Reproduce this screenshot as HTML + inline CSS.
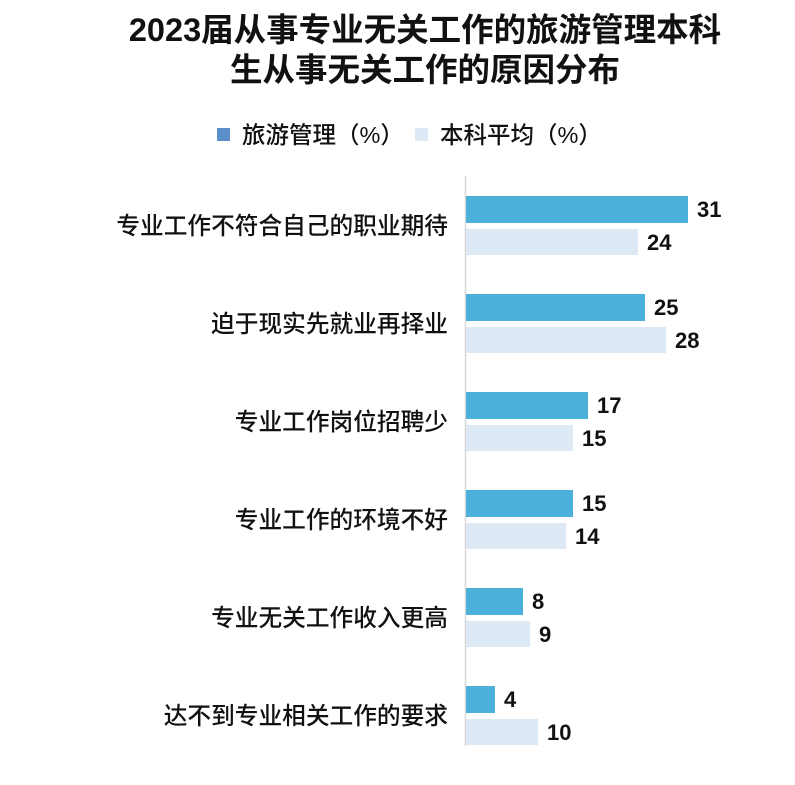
<!DOCTYPE html>
<html><head><meta charset="utf-8"><style>
body{margin:0;background:#fff;}
svg text{font-family:"Liberation Sans","Noto Sans CJK SC",sans-serif;}
</style></head><body>
<svg width="795" height="780" xmlns="http://www.w3.org/2000/svg">
<rect width="795" height="780" fill="#fff"/>
<text x="425" y="41" text-anchor="middle" font-size="32.5" font-weight="bold" fill="#111">2023届从事专业无关工作的旅游管理本科</text>
<text x="425" y="81" text-anchor="middle" font-size="32.5" font-weight="bold" fill="#111">生从事无关工作的原因分布</text>
<rect x="217" y="128" width="13" height="13" fill="#5b8fcc"/>
<text x="242" y="143" font-size="23.5" font-weight="500" fill="#111">旅游管理（%）</text>
<rect x="415" y="128" width="13" height="13" fill="#dde9f5"/>
<text x="440" y="143" font-size="23.5" font-weight="500" fill="#111">本科平均（%）</text>
<line x1="465.5" y1="176" x2="465.5" y2="746" stroke="#d8d8d8" stroke-width="1.5"/>
<g font-size="23.7" font-weight="500" fill="#111" text-anchor="end">
<text x="448" y="234">专业工作不符合自己的职业期待</text>
<text x="448" y="332">迫于现实先就业再择业</text>
<text x="448" y="430">专业工作岗位招聘少</text>
<text x="448" y="528">专业工作的环境不好</text>
<text x="448" y="626">专业无关工作收入更高</text>
<text x="448" y="724">达不到专业相关工作的要求</text>
</g>
<g fill="#4bb1da">
<rect x="466" y="196" width="222" height="27"/>
<rect x="466" y="294" width="179" height="27"/>
<rect x="466" y="392" width="122" height="27"/>
<rect x="466" y="490" width="107" height="27"/>
<rect x="466" y="588" width="57" height="27"/>
<rect x="466" y="686" width="29" height="27"/>
</g>
<g fill="#dde9f5">
<rect x="466" y="229" width="172" height="26"/>
<rect x="466" y="327" width="200" height="26"/>
<rect x="466" y="425" width="107" height="26"/>
<rect x="466" y="523" width="100" height="26"/>
<rect x="466" y="621" width="64" height="26"/>
<rect x="466" y="719" width="72" height="26"/>
</g>
<g font-size="22" font-weight="bold" fill="#111">
<text x="697" y="217">31</text><text x="647" y="250">24</text>
<text x="654" y="315">25</text><text x="675" y="348">28</text>
<text x="597" y="413">17</text><text x="582" y="446">15</text>
<text x="582" y="511">15</text><text x="575" y="544">14</text>
<text x="532" y="609">8</text><text x="539" y="642">9</text>
<text x="504" y="707">4</text><text x="547" y="740">10</text>
</g>
</svg>
</body></html>
